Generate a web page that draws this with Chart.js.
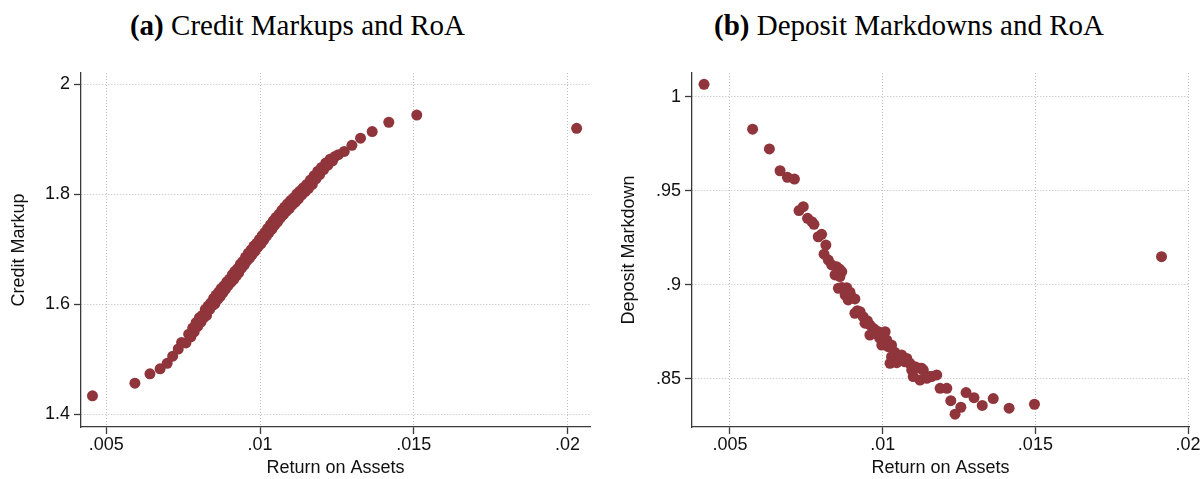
<!DOCTYPE html>
<html>
<head>
<meta charset="utf-8">
<script src="https://cdn.jsdelivr.net/npm/chart.js@4/dist/chart.umd.min.js"></script>
<style>
  html, body { margin: 0; padding: 0; background: #fff; overflow: hidden; }
  #wrap { position: relative; width: 1203px; height: 479px; background: #fff; }
  .panel-title {
    position: absolute; top: 10.7px; transform: translateX(-50%);
    white-space: nowrap; font-family: "Liberation Serif", serif; font-size: 29px;
    line-height: 29px; color: #000;
  }
  canvas { position: absolute; top: 0; }
</style>
</head>
<body>
<div id="wrap">
  <div class="panel-title" style="left:297.5px"><b>(a)</b> Credit Markups and RoA</div>
  <div class="panel-title" style="left:909px"><b>(b)</b> Deposit Markdowns and RoA</div>
  <canvas id="credit" width="600" height="479" style="left:0"></canvas>
  <canvas id="deposit" width="603" height="479" style="left:600px"></canvas>
</div>
<script>
// Panel (a): return on assets vs. credit markup
const creditRoA = [
  0.00455, 0.00593, 0.00642, 0.00675, 0.00698, 0.00716, 0.00734, 0.00745, 0.00759, 0.00768,
  0.00775, 0.00781, 0.00786, 0.00792, 0.00797, 0.00803, 0.00808, 0.00812, 0.00817, 0.00822,
  0.00826, 0.00831, 0.00836, 0.00840, 0.00845, 0.00849, 0.00853, 0.00857, 0.00862, 0.00866,
  0.00870, 0.00874, 0.00879, 0.00883, 0.00888, 0.00892, 0.00896, 0.00901, 0.00905, 0.00910,
  0.00914, 0.00918, 0.00923, 0.00927, 0.00931, 0.00936, 0.00940, 0.00944, 0.00949, 0.00953,
  0.00957, 0.00962, 0.00966, 0.00971, 0.00975, 0.00980, 0.00984, 0.00989, 0.00993, 0.00998,
  0.01003, 0.01007, 0.01012, 0.01016, 0.01021, 0.01025, 0.01030, 0.01034, 0.01039, 0.01043,
  0.01048, 0.01052, 0.01057, 0.01062, 0.01066, 0.01071, 0.01076, 0.01080, 0.01085, 0.01090,
  0.01095, 0.01100, 0.01105, 0.01110, 0.01115, 0.01120, 0.01125, 0.01130, 0.01136, 0.01141,
  0.01147, 0.01152, 0.01158, 0.01164, 0.01170, 0.01176, 0.01182, 0.01188, 0.01194, 0.01200,
  0.01207, 0.01214, 0.01221, 0.01228, 0.01236, 0.01244, 0.01255, 0.01274, 0.01299, 0.01327,
  0.01365, 0.01419, 0.01510, 0.02030
];
const creditMarkup = [
  1.434, 1.457, 1.474, 1.483, 1.493, 1.506, 1.519, 1.531, 1.530, 1.546,
  1.541, 1.557, 1.550, 1.567, 1.560, 1.576, 1.568, 1.580, 1.576, 1.591,
  1.580, 1.597, 1.591, 1.603, 1.598, 1.611, 1.601, 1.617, 1.609, 1.623,
  1.614, 1.629, 1.621, 1.634, 1.628, 1.641, 1.634, 1.646, 1.640, 1.654,
  1.645, 1.660, 1.652, 1.665, 1.658, 1.673, 1.666, 1.678, 1.672, 1.686,
  1.679, 1.693, 1.684, 1.699, 1.691, 1.706, 1.697, 1.711, 1.704, 1.718,
  1.710, 1.725, 1.717, 1.731, 1.724, 1.738, 1.731, 1.745, 1.737, 1.752,
  1.744, 1.758, 1.750, 1.764, 1.757, 1.771, 1.763, 1.777, 1.769, 1.783,
  1.774, 1.789, 1.781, 1.794, 1.786, 1.801, 1.792, 1.806, 1.799, 1.812,
  1.805, 1.818, 1.811, 1.826, 1.818, 1.834, 1.828, 1.842, 1.836, 1.849,
  1.845, 1.857, 1.853, 1.864, 1.861, 1.869, 1.872, 1.878, 1.889, 1.902,
  1.914, 1.931, 1.944, 1.920
];

// Panel (b): return on assets vs. deposit markdown
const depositRoA = [
  0.00415, 0.00574, 0.00629, 0.00664, 0.00688, 0.00711, 0.00726, 0.00740, 0.00754, 0.00768,
  0.00775, 0.00789, 0.00800, 0.00814, 0.00808, 0.00822, 0.00833, 0.00849, 0.00858, 0.00866,
  0.00844, 0.00860, 0.00852, 0.00855, 0.00866, 0.00882, 0.00877, 0.00887, 0.00898, 0.00909,
  0.00893, 0.00909, 0.00917, 0.00926, 0.00936, 0.00942, 0.00950, 0.00958, 0.00969, 0.00975,
  0.00986, 0.01002, 0.01008, 0.00958, 0.00975, 0.00990, 0.00997, 0.01013, 0.01018, 0.01029,
  0.01029, 0.01040, 0.01024, 0.01046, 0.01051, 0.01062, 0.01073, 0.01079, 0.01089, 0.01095,
  0.01106, 0.01100, 0.01122, 0.01128, 0.01133, 0.01122, 0.01144, 0.01155, 0.01160, 0.01177,
  0.01188, 0.01210, 0.01223, 0.01237, 0.01256, 0.01273, 0.01299, 0.01326, 0.01362, 0.01414,
  0.01497, 0.01913
];
const depositMarkdown = [
  1.0066, 0.9827, 0.9722, 0.9606, 0.9571, 0.9562, 0.9394, 0.9415, 0.9353, 0.9335,
  0.9321, 0.9255, 0.9268, 0.9211, 0.9162, 0.9131, 0.9105, 0.9096, 0.9084, 0.9070,
  0.9052, 0.9043, 0.9060, 0.8981, 0.8985, 0.8984, 0.8945, 0.8919, 0.8935, 0.8924,
  0.8960, 0.8848, 0.8862, 0.8856, 0.8830, 0.8795, 0.8808, 0.8786, 0.8768, 0.8759,
  0.8750, 0.8741, 0.8750, 0.8732, 0.8741, 0.8716, 0.8679, 0.8706, 0.8670, 0.8679,
  0.8617, 0.8640, 0.8582, 0.8585, 0.8608, 0.8626, 0.8590, 0.8608, 0.8582, 0.8546,
  0.8564, 0.8511, 0.8555, 0.8555, 0.8546, 0.8493, 0.8502, 0.8511, 0.8511, 0.8520,
  0.8449, 0.8449, 0.8383, 0.8311, 0.8348, 0.8426, 0.8399, 0.8358, 0.8394, 0.8343,
  0.8364, 0.9149
];

// Axis ticks and their labels
const roaTicks = [0.005, 0.01, 0.015, 0.02];
const roaTickLabels = ['.005', '.01', '.015', '.02'];
const markupTicks = [1.4, 1.6, 1.8, 2];
const markupTickLabels = ['1.4', '1.6', '1.8', '2'];
const markdownTicks = [0.85, 0.9, 0.95, 1];
const markdownTickLabels = ['.85', '.9', '.95', '1'];

const MARKER = 'rgb(144,53,59)';
const AXIS = '#3a3a3a';
const GRID = '#bdbdbd';
const SANS = '"Liberation Sans", Arial, sans-serif';

function axis(opts) {
  const isX = opts.pos === 'bottom';
  return {
    type: 'linear',
    position: opts.pos,
    min: opts.min,
    max: opts.max,
    afterBuildTicks: (scale) => { scale.ticks = opts.ticks.map(v => ({ value: v })); },
    afterFit: (scale) => {
      if (isX) scale.height = opts.size; else scale.width = opts.size;
    },
    ticks: {
      autoSkip: false,
      maxRotation: 0,
      padding: isX ? 0 : 4,
      color: '#111',
      font: { family: SANS, size: 18 },
      callback: (v, i) => opts.labels[i]
    },
    grid: {
      display: true,
      drawOnChartArea: true,
      drawTicks: true,
      color: GRID,
      lineWidth: 1,
      tickLength: 7,
      tickColor: AXIS,
      tickWidth: 1.3
    },
    border: { display: true, color: AXIS, width: 1.3, dash: [1, 2] },
    title: {
      display: true,
      text: opts.title,
      color: '#111',
      font: { family: SANS, size: 18 },
      padding: isX ? { top: 0, bottom: 0 } : { top: opts.titlePad, bottom: 0 }
    }
  };
}

function scatterPanel(id, xs, ys, cfg) {
  const points = xs.map((x, i) => ({ x: x, y: ys[i] }));
  return new Chart(document.getElementById(id), {
    type: 'scatter',
    data: {
      datasets: [{
        data: points,
        pointRadius: 5.5,
        pointBackgroundColor: MARKER,
        pointBorderColor: MARKER,
        pointBorderWidth: 0,
        clip: false
      }]
    },
    options: {
      responsive: false,
      animation: false,
      devicePixelRatio: 1,
      layout: { padding: { top: 73, right: cfg.padRight, left: 0, bottom: 0 } },
      plugins: { legend: { display: false }, tooltip: { enabled: false } },
      scales: {
        x: axis({ pos: 'bottom', min: cfg.xMin, max: cfg.xMax, ticks: roaTicks,
                  labels: roaTickLabels, size: 52, title: 'Return on Assets' }),
        y: axis({ pos: 'left', min: cfg.yMin, max: cfg.yMax, ticks: cfg.yTicks,
                  labels: cfg.yLabels, size: cfg.yWidth, title: cfg.yTitle, titlePad: cfg.yTitlePad })
      }
    }
  });
}

scatterPanel('credit', creditRoA, creditMarkup, {
  xMin: 0.004177, xMax: 0.020735, yMin: 1.3773, yMax: 2.0205,
  yTicks: markupTicks, yLabels: markupTickLabels,
  yWidth: 81, padRight: 10, yTitle: 'Credit Markup', yTitlePad: 8
});

scatterPanel('deposit', depositRoA, depositMarkdown, {
  xMin: 0.003756, xMax: 0.02003, yMin: 0.8243, yMax: 1.0126,
  yTicks: markdownTicks, yLabels: markdownTickLabels,
  yWidth: 92, padRight: 14, yTitle: 'Deposit Markdown', yTitlePad: 18
});
</script>
</body>
</html>
